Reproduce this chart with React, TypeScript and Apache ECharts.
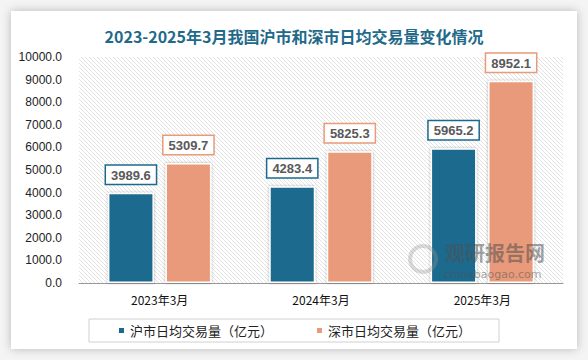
import React, { useEffect, useRef } from "react";
import * as echarts from "echarts";

const categories = ["2023年3月", "2024年3月", "2025年3月"];
const shValues = [3989.6, 4283.4, 5965.2];
const szValues = [5309.7, 5825.3, 8952.1];
const seriesNames = ["沪市日均交易量（亿元）", "深市日均交易量（亿元）"];
const title = "2023-2025年3月我国沪市和深市日均交易量变化情况";

function makeHatch(): HTMLCanvasElement {
  const c = document.createElement("canvas");
  c.width = 4;
  c.height = 4;
  const ctx = c.getContext("2d")!;
  ctx.fillStyle = "#ffffff";
  ctx.fillRect(0, 0, 4, 4);
  ctx.strokeStyle = "#e2e2e2";
  ctx.lineWidth = 1;
  ctx.beginPath();
  ctx.moveTo(0, 0);
  ctx.lineTo(4, 4);
  ctx.moveTo(-1, 3);
  ctx.lineTo(1, 5);
  ctx.moveTo(3, -1);
  ctx.lineTo(5, 1);
  ctx.stroke();
  return c;
}

export default function App() {
  const ref = useRef<HTMLDivElement>(null);
  useEffect(() => {
    if (!ref.current) return;
    const chart = echarts.init(ref.current, null, { renderer: "svg" });
    const hatch = makeHatch();
    const labelCommon = (color: string) => ({
      show: true,
      position: "top",
      distance: 9,
      formatter: (p: any) => Number(p.value).toFixed(1),
      color: "#595959",
      fontWeight: "bold",
      fontSize: 13,
      fontFamily: "Arial, 'Liberation Sans', sans-serif",
      backgroundColor: "#ffffff",
      borderColor: color,
      borderWidth: 1.5,
      padding: [3, 5, 2, 5],
    });
    chart.setOption({
      animation: false,
      backgroundColor: "#f4f4f4",
      graphic: [
        {
          type: "rect",
          z: -10,
          shape: { x: 11, y: 11, width: 566, height: 338 },
          style: {
            fill: "#ffffff",
            shadowBlur: 10,
            shadowColor: "rgba(0,0,0,0.25)",
          },
        },
        {
          type: "rect",
          z: 10,
          shape: { x: 79, y: 57, width: 484, height: 226 },
          style: { fill: { image: hatch, repeat: "repeat" } as any },
          silent: true,
        },
        {
          type: "text",
          z: 100,
          x: 445,
          y: 252,
          style: {
            text: "观研报告网",
            font: "bold 20px 'Noto Sans CJK SC', sans-serif",
            lineHeight: 20,
            fill: "rgba(80,80,80,0.55)",
            verticalAlign: "middle",
          },
        },
        {
          type: "text",
          z: 100,
          x: 444,
          y: 274,
          style: {
            text: "chinabaogao.com",
            font: "11px 'DejaVu Sans', sans-serif",
            lineHeight: 11,
            fill: "rgba(80,80,80,0.5)",
            verticalAlign: "middle",
          },
        },
        {
          type: "ring",
          z: 100,
          shape: { cx: 423, cy: 259, r: 15, r0: 11 },
          style: { fill: "rgba(150,150,150,0.35)" },
        },
      ],
      title: {
        text: title,
        left: "center",
        top: 23,
        textStyle: {
          color: "#1f6a8a",
          fontSize: 16,
          fontWeight: "bold",
          fontFamily: "'Noto Sans CJK SC', sans-serif",
        },
      },
      legend: {
        bottom: 18,
        left: "center",
        itemWidth: 7,
        itemHeight: 7,
        itemGap: 42,
        icon: "rect",
        borderColor: "#d0d0d0",
        borderWidth: 1,
        padding: [5, 28, 5, 28],
        textStyle: {
          color: "#222",
          fontSize: 13,
          fontFamily: "'Noto Sans CJK SC', sans-serif",
        },
        data: seriesNames,
      },
      grid: { left: 79, right: 25, top: 57, bottom: 77, containLabel: false },
      xAxis: {
        type: "category",
        data: categories,
        axisTick: { show: false },
        axisLine: { lineStyle: { color: "#999", width: 1 } },
        axisLabel: {
          color: "#111",
          fontSize: 12,
          margin: 10,
          fontFamily: "'Noto Sans CJK SC', sans-serif",
        },
        z: 20,
      },
      yAxis: {
        type: "value",
        min: 0,
        max: 10000,
        interval: 1000,
        axisLine: { show: false },
        axisTick: { show: false },
        splitLine: { show: false },
        axisLabel: {
          color: "#222",
          fontSize: 12,
          margin: 17,
          fontFamily: "Arial, 'Liberation Sans', sans-serif",
          formatter: (v: number) => v.toFixed(1),
        },
      },
      series: [
        {
          name: seriesNames[0],
          type: "bar",
          data: shValues,
          barWidth: 46,
          barGap: "25%",
          z: 30,
          itemStyle: {
            color: "#1b6a8e",
            borderColor: "#ffffff",
            borderWidth: 1.5,
            shadowBlur: 3,
            shadowColor: "rgba(0,0,0,0.3)",
          },
          label: labelCommon("#1b6a8e"),
        },
        {
          name: seriesNames[1],
          type: "bar",
          data: szValues,
          barWidth: 46,
          z: 30,
          itemStyle: {
            color: "#e89a7a",
            borderColor: "#ffffff",
            borderWidth: 1.5,
            shadowBlur: 3,
            shadowColor: "rgba(0,0,0,0.3)",
          },
          label: labelCommon("#e89a7a"),
        },
      ],
    });
    return () => chart.dispose();
  }, []);
  return (
    <div
      ref={ref}
      style={{ position: "fixed", left: 0, top: 0, width: 588, height: 360 }}
    />
  );
}
